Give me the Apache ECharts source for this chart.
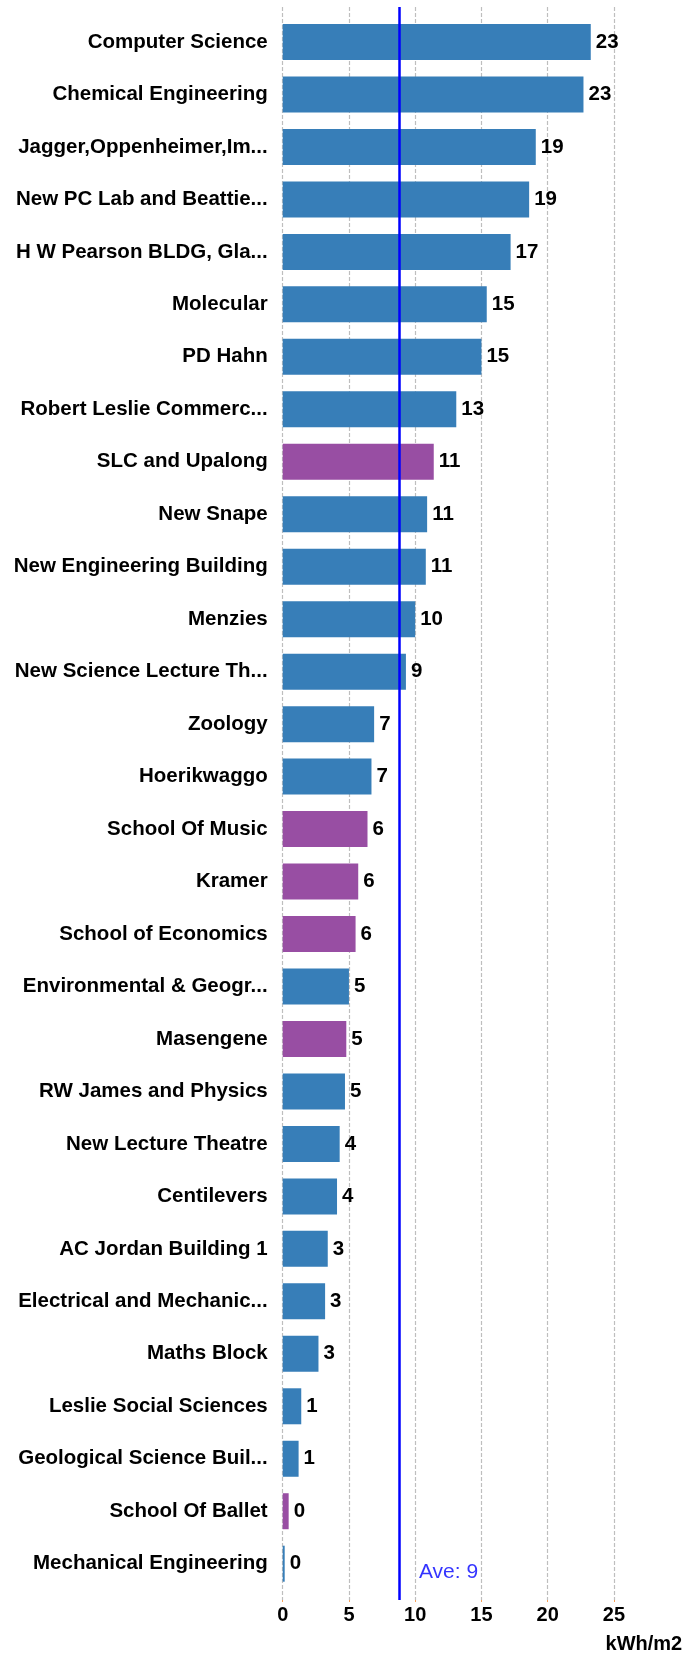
<!DOCTYPE html>
<html>
<head>
<meta charset="utf-8">
<script src="https://cdn.jsdelivr.net/npm/echarts@6/dist/echarts.min.js"></script>
<style>html,body{margin:0;padding:0;background:#fff}#c{width:699px;height:1656px}</style>
</head>
<body>
<div id="c"></div>
<script>
const categories = [
  "Computer Science", "Chemical Engineering", "Jagger,Oppenheimer,Im...", "New PC Lab and Beattie...",
  "H W Pearson BLDG, Gla...", "Molecular", "PD Hahn", "Robert Leslie Commerc...", "SLC and Upalong",
  "New Snape", "New Engineering Building", "Menzies", "New Science Lecture Th...", "Zoology",
  "Hoerikwaggo", "School Of Music", "Kramer", "School of Economics", "Environmental & Geogr...",
  "Masengene", "RW James and Physics", "New Lecture Theatre", "Centilevers", "AC Jordan Building 1",
  "Electrical and Mechanic...", "Maths Block", "Leslie Social Sciences", "Geological Science Buil...",
  "School Of Ballet", "Mechanical Engineering"
];
const values = [
  23.25, 22.7, 19.1, 18.6, 17.2, 15.4, 15.0, 13.1, 11.4, 10.9, 10.8, 10.0, 9.3, 6.9, 6.7,
  6.4, 5.7, 5.5, 5.0, 4.8, 4.7, 4.3, 4.1, 3.4, 3.2, 2.7, 1.4, 1.2, 0.45, 0.15
];
const groups = [
  "A","A","A","A","A","A","A","A","R","A","A","A","A","A","A",
  "R","R","R","A","R","A","A","A","A","A","A","A","A","R","A"
];
const average = 8.77;
const averageLabel = "Ave: 9";
const axisName = "kWh/m2";

const groupColor = { A: "#377EB8", R: "#984EA3" };
const font = "'Liberation Sans', Arial, sans-serif";
const pxPerUnit = 13.25;
const left = 282.7;

const chart = echarts.init(document.getElementById('c'), null, { renderer: 'canvas' });
chart.setOption({
  animation: false,
  backgroundColor: '#fff',
  grid: [
    { left: left, width: 30 * pxPerUnit, top: 15.76, height: 1589.94 - 15.76, containLabel: false },
    { left: left, width: 25 * pxPerUnit, top: 7, height: 1593, containLabel: false }
  ],
  xAxis: [
    {
      gridIndex: 0, type: 'value', min: 0, max: 30,
      axisLine: { show: false }, axisTick: { show: false }, axisLabel: { show: false },
      splitLine: { show: false },
      name: axisName, nameLocation: 'end', nameGap: 2,
      nameTextStyle: { fontFamily: font, fontWeight: 'bold', fontSize: 20, color: '#000',
        align: 'right', verticalAlign: 'top', padding: [45, 0, 0, 0] }
    },
    {
      gridIndex: 1, type: 'value', min: 0, max: 25, interval: 5,
      axisLine: { show: false },
      axisTick: { show: true, length: 2, lineStyle: { color: '#F5A05A', width: 1 } },
      axisLabel: { fontFamily: font, fontWeight: 'bold', fontSize: 20, color: '#000', margin: 5 },
      splitLine: { show: true, lineStyle: { color: '#BEBEBE', width: 1.2, type: [4, 2] } }
    }
  ],
  yAxis: [
    {
      gridIndex: 0, type: 'category', data: categories, inverse: true,
      axisLine: { show: false }, axisTick: { show: false },
      axisLabel: { fontFamily: font, fontWeight: 'bold', fontSize: 20.5, color: '#000', margin: 15 }
    },
    { gridIndex: 1, type: 'value', min: 0, max: 1, show: false }
  ],
  series: [
    {
      type: 'bar', xAxisIndex: 0, yAxisIndex: 0, barWidth: 36, z: 2,
      data: values.map((v, i) => ({ value: v, itemStyle: { color: groupColor[groups[i]] } })),
      label: {
        show: true, position: 'right', distance: 5,
        fontFamily: font, fontWeight: 'bold', fontSize: 20.5, color: '#000',
        formatter: p => String(Math.round(p.value))
      }
    },
    {
      type: 'scatter', xAxisIndex: 1, yAxisIndex: 1, z: 5, silent: true,
      symbolSize: 0,
      data: [[average, 0]],
      label: {
        show: true, position: 'right', distance: 0, offset: [20, -28],
        formatter: averageLabel, fontFamily: font, fontSize: 21, color: '#0000FF'
      },
      markLine: {
        silent: true, symbol: 'none', animation: false,
        lineStyle: { color: '#0000FF', width: 2.5, type: 'solid' },
        label: { show: false },
        data: [{ xAxis: average }]
      }
    }
  ]
});
</script>
</body>
</html>
